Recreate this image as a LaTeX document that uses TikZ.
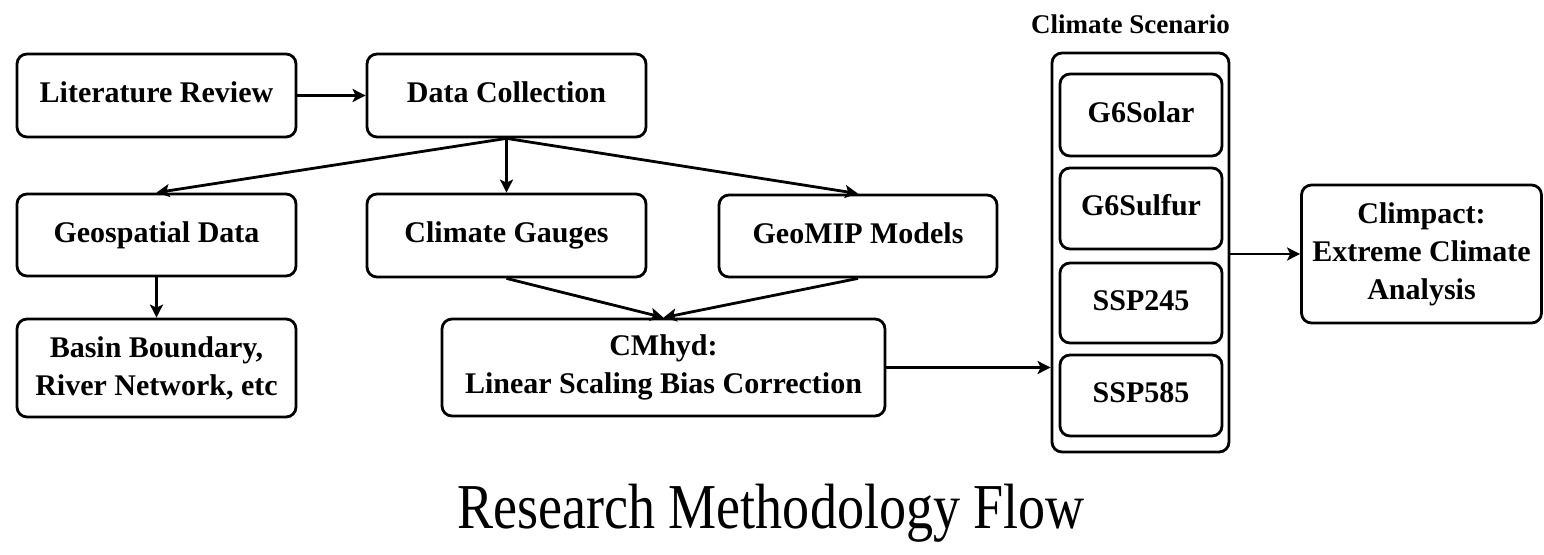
\documentclass[tikz,border=0pt]{standalone}
\usepackage{fontspec}
\usepackage{graphicx}
\setmainfont{Liberation Serif}
\usetikzlibrary{arrows.meta}

\begin{document}
\begin{tikzpicture}[x=1pt,y=-1pt,
  box/.style={draw, line width=2.8pt, rounded corners=10pt, align=center,
    inner sep=0pt, font=\fontsize{30}{38}\selectfont\bfseries},
  oneline/.style={text height=21pt, text depth=7pt},
  flow/.style={line width=2.8pt, -{Stealth[length=13pt,width=13pt,inset=3pt]}}]

% canvas
\fill[white] (0,0) rectangle (1544,554);
\useasboundingbox (0,0) rectangle (1544,554);

% left column and upper rows
\node[box, oneline, minimum width=279pt, minimum height=83pt] (lit)   at (156.5,95.5) {Literature Review};
\node[box, oneline, minimum width=279pt, minimum height=83pt] (data)  at (506.5,95.5) {Data Collection};
\node[box, oneline, minimum width=279pt, minimum height=82pt] (geo)   at (156.5,235)  {Geospatial Data};
\node[box, oneline, minimum width=279pt, minimum height=83pt] (gauge) at (506.5,235.5) {Climate Gauges};
\node[box, oneline, minimum width=278pt, minimum height=82pt] (gmip)  at (858,236)    {GeoMIP Models};
\node[box, minimum width=279pt, minimum height=98pt] (basin) at (156.5,368) {Basin Boundary,\\River Network, etc};
\node[box, minimum width=443pt, minimum height=97pt] (cmhyd) at (663.5,367.5) {CMhyd:\\Linear Scaling Bias Correction};

% scenario group
\node[box, minimum width=177pt, minimum height=399pt] (scen) at (1140.5,252.5) {};
\node[font=\fontsize{27}{32}\selectfont\bfseries] (scentitle) at (1130.5,24) {Climate Scenario};
\node[box, oneline, minimum width=162pt, minimum height=82pt] (s1) at (1141,115)   {G6Solar};
\node[box, oneline, minimum width=162pt, minimum height=81pt] (s2) at (1141,208.5) {G6Sulfur};
\node[box, oneline, minimum width=162pt, minimum height=80pt] (s3) at (1141,303)   {SSP245};
\node[box, oneline, minimum width=162pt, minimum height=81pt] (s4) at (1141,395.5) {SSP585};

% analysis
\node[box, minimum width=240pt, minimum height=138pt] (clim) at (1421.5,254) {Climpact:\\Extreme Climate\\Analysis};

% caption
\node[anchor=base, font=\fontsize{64}{70}\selectfont, inner sep=0pt] (caption) at (771,528)
  {\scalebox{0.845}[1]{Research Methodology Flow}};

% connectors
\draw[flow] (lit.east) -- (data.west);
\draw[flow] (data.south) -- (geo.north);
\draw[flow] (data.south) -- (gauge.north);
\draw[flow] (data.south) -- (gmip.north);
\draw[flow] (geo.south) -- (basin.north);
\draw[flow] (gauge.south) -- (cmhyd.north);
\draw[flow] (gmip.south) -- (cmhyd.north);
\draw[flow] (cmhyd.east) -- (cmhyd.east -| scen.west);
\draw[flow] (scen.east |- clim.west) -- (clim.west);
\end{tikzpicture}
\end{document}
